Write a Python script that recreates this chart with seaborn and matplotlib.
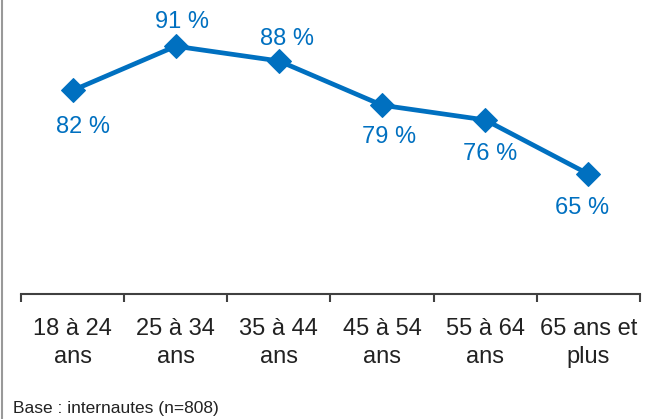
import matplotlib
matplotlib.use("Agg")
import matplotlib.pyplot as plt
from matplotlib import font_manager
from matplotlib.lines import Line2D
import seaborn as sns
import pandas as pd

# Data
categories = ["18 à 24\nans", "25 à 34\nans", "35 à 44\nans", "45 à 54\nans", "55 à 64\nans", "65 ans et\nplus"]
values = [82, 91, 88, 79, 76, 65]
note = "Base : internautes (n=808)"

# label offsets in px (dx, dy) relative to each point
label_offsets = [(10, -37), (6, 24), (8, 22), (7, -32), (5, -34), (-6, -34)]

names = {f.name for f in font_manager.fontManager.ttflist}
font = "Liberation Sans Narrow" if "Liberation Sans Narrow" in names else "Liberation Sans"

sns.set_style("white")
plt.rcParams["font.family"] = [font, "DejaVu Sans"]

blue = "#0070C0"
dpi = 100
fig = plt.figure(figsize=(6.5, 4.19), dpi=dpi)
ax = fig.add_axes([21 / 650, 1 - 294 / 419, 619 / 650, 294 / 419])

df = pd.DataFrame({"age": categories, "pct": values})
sns.lineplot(data=df, x="age", y="pct", sort=False, color=blue, linewidth=3.4,
             marker="D", markersize=12, markeredgecolor=blue, ax=ax)

px = 72 / dpi
for i, (v, (dx, dy)) in enumerate(zip(values, label_offsets)):
    ax.annotate(f"{v} %", (i, v), xytext=(dx * px, dy * px), textcoords="offset points",
                ha="center", va="center", color=blue, fontsize=17)

ax.set_xlim(-0.5, len(categories) - 0.5)
ax.set_ylim(40.6, 100.4)
ax.set_xlabel("")
ax.set_ylabel("")
ax.set_yticks([])
for s in ["top", "right", "left"]:
    ax.spines[s].set_visible(False)
ax.spines["bottom"].set_color("#404040")
ax.spines["bottom"].set_linewidth(1.5)

ax.set_xticks(range(len(categories)))
ax.set_xticklabels(categories, fontsize=17, color="#222222", linespacing=1.35)
ax.set_xticks([i - 0.5 for i in range(len(categories) + 1)], minor=True)
ax.tick_params(axis="x", which="major", length=0, pad=17)
ax.tick_params(axis="x", which="minor", length=6, width=1.5, color="#404040", direction="out", bottom=True)

fig.add_artist(Line2D([2 / 650, 2 / 650], [0, 1], transform=fig.transFigure, color="#999999", linewidth=1.5))
fig.text(13 / 650, 1 - 408 / 419, note, fontsize=12.5, color="#222222", va="center", ha="left")

fig.savefig("out.png", dpi=dpi)
